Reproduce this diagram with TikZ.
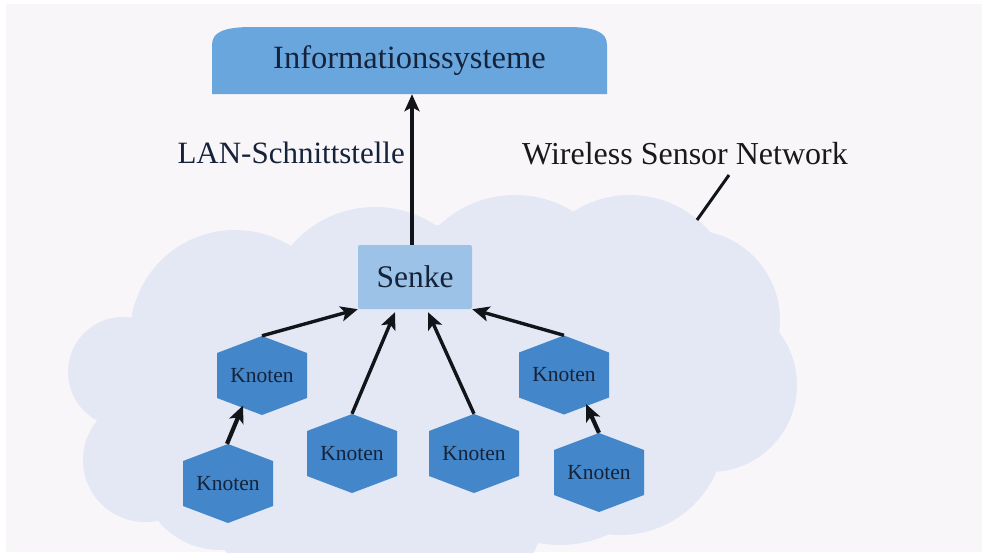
\documentclass[tikz,border=0pt]{standalone}
\usepackage{fontspec}
\setmainfont{Liberation Serif}
\usetikzlibrary{arrows.meta,calc}
\definecolor{bgpink}{HTML}{F9F6FA}
\definecolor{cloudc}{HTML}{E3E8F4}
\definecolor{infoc}{HTML}{6AA6DE}
\definecolor{senkec}{HTML}{9CC3E7}
\definecolor{hexc}{HTML}{4386C9}
\definecolor{txtc}{HTML}{15233A}
\definecolor{arrc}{HTML}{111418}
\begin{document}
\begin{tikzpicture}[x=1pt,y=-1pt,
  arr/.style={draw=arrc, line width=3.4pt, -{Stealth[length=17pt,width=15pt,inset=4pt]}},
  thickarr/.style={arr, line width=4.2pt},
  lead/.style={draw=arrc, line width=3pt},
  big/.style={font=\fontsize{31}{31}\selectfont, text=txtc, inner sep=0pt},
  hexa/.style={minimum width=90pt, minimum height=79pt, inner sep=0pt,
    font=\fontsize{21.5}{21.5}\selectfont, text=txtc,
    path picture={\fill[hexc] (path picture bounding box.north)
      -- ([yshift=-17pt]path picture bounding box.north east)
      -- ([yshift=17pt]path picture bounding box.south east)
      -- (path picture bounding box.south)
      -- ([yshift=17pt]path picture bounding box.south west)
      -- ([yshift=-17pt]path picture bounding box.north west) -- cycle;}},
  infobox/.style={minimum width=395pt, minimum height=67pt, inner sep=0pt,
    font=\fontsize{32.5}{32.5}\selectfont, text=txtc,
    path picture={\fill[infoc] (path picture bounding box.south west)
      -- ([yshift=-18pt]path picture bounding box.north west)
      .. controls ([yshift=-5pt]path picture bounding box.north west) and ([xshift=12pt]path picture bounding box.north west)
      .. ([xshift=40pt]path picture bounding box.north west)
      -- ([xshift=-40pt]path picture bounding box.north east)
      .. controls ([xshift=-12pt]path picture bounding box.north east) and ([yshift=-5pt]path picture bounding box.north east)
      .. ([yshift=-18pt]path picture bounding box.north east)
      -- (path picture bounding box.south east) -- cycle;}},
  senkebox/.style={minimum width=114pt, minimum height=64pt, inner sep=0pt,
    fill=senkec, rounded corners=2pt, font=\fontsize{31.5}{31.5}\selectfont, text=txtc}
]
\useasboundingbox (0,0) rectangle (982,552);
\fill[white] (0,0) rectangle (982,552);
\fill[bgpink] (6,4) rectangle (982,552);

% cloud
\begin{scope}
\clip (6,4) rectangle (982,552);
\fill[cloudc]
  (235,335) circle[radius=105]
  (375,317) circle[radius=110]
  (515,305) circle[radius=110]
  (630,300) circle[radius=105]
  (690,320) circle[radius=90]
  (710,385) circle[radius=87]
  (620,430) circle[radius=105]
  (560,430) circle[radius=115]
  (123,372) circle[radius=55]
  (145,460) circle[radius=62]
  (220,470) circle[radius=80]
  (210,410) circle[radius=105]
  (380,480) circle[radius=170]
  (430,390) circle[radius=165]
  (300,400) circle[radius=140]
  (600,380) circle[radius=120];
\end{scope}

% top box
\node[infobox] (info) at (409.5,60.5) {Informationssysteme};

% labels
\node[big, anchor=east] (lan) at (405,153) {LAN-Schnittstelle};
\node[big, font=\fontsize{32}{32}\selectfont, text=black!90] (wsn) at (685,154) {Wireless Sensor Network};
\coordinate (wsnend) at (697,220);
\draw[lead] (729,175) -- (wsnend);

% sink
\node[senkebox] (senke) at (415,277) {Senke};

% sensor nodes
\node[hexa] (k1) at (262,375.5) {Knoten};
\node[hexa] (k2) at (352,453.5) {Knoten};
\node[hexa] (k3) at (474,453.5) {Knoten};
\node[hexa] (k4) at (564,375) {Knoten};
\node[hexa] (k5) at (228,483.5) {Knoten};
\node[hexa] (k6) at (599,472.5) {Knoten};

% connectors
\draw[arr] ([xshift=-3pt]senke.north) -- ([xshift=-3pt]senke.north |- info.south);
\draw[arr] (k1.north) -- (senke.south west);
\draw[arr] (k2.north) -- ($(senke.south)+(-20,3)$);
\draw[arr] (k3.north) -- ($(senke.south)+(13,3)$);
\draw[arr] (k4.north) -- (senke.south east);
\draw[thickarr] ([xshift=-1pt]k5.north) -- ($(k1.center)+(-19,30)$);
\draw[thickarr] (k6.north) -- ($(k4.center)+(22,29)$);
\end{tikzpicture}
\end{document}
